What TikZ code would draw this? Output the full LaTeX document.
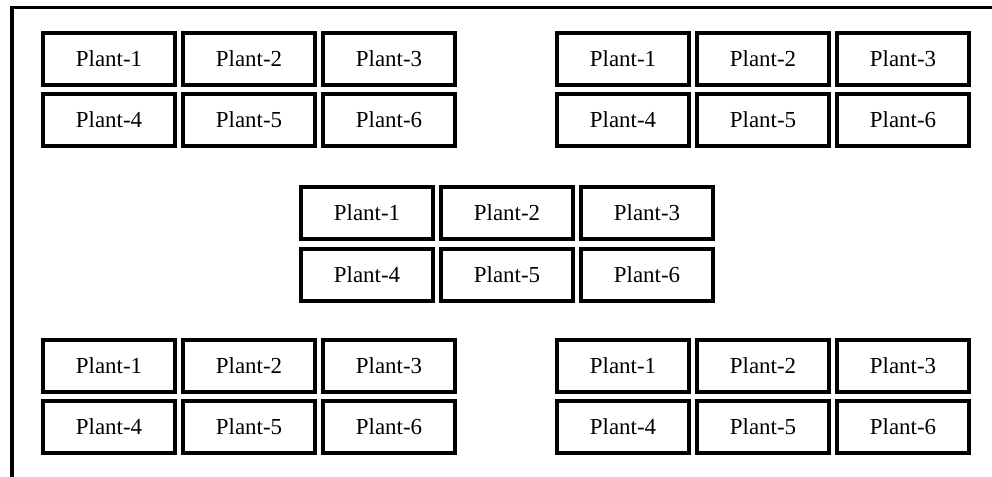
\documentclass[tikz,border=0pt]{standalone}
\usepackage{fontspec}
\setmainfont{Liberation Serif}
\begin{document}
\begin{tikzpicture}[x=0.75pt,y=-0.75pt,
  plantbox/.style={draw=black, fill=white, line width=3pt, rectangle,
    minimum width=99pt, minimum height=39pt, inner sep=0pt,
    font=\fontsize{17.2}{20}\selectfont},
  frameline/.style={draw=black, line width=2.4pt}]
\useasboundingbox (0,0) rectangle (992,476);
\draw[frameline] (12,480) -- (12,7.5) -- (996,7.5);
\foreach \g/\gx/\gy/\rg in {tl/41/31/61, tr/555/31/61, m/299/185/62, bl/41/338/61, br/555/338/61}{
  \foreach \i/\c/\r in {1/0/0, 2/1/0, 3/2/0, 4/0/1, 5/1/1, 6/2/1}{
    \node[plantbox] (\g\i) at ({\gx+68+140*\c},{\gy+28+\rg*\r}) {Plant-\i};
  }
}
\end{tikzpicture}
\end{document}
